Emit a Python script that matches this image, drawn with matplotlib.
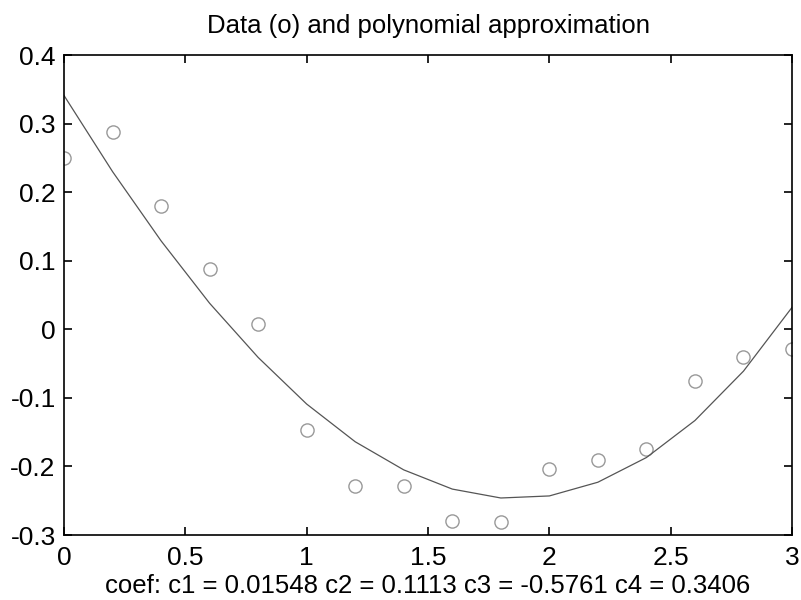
import matplotlib.pyplot as plt

plt.rcParams['font.family'] = ['Liberation Sans', 'DejaVu Sans']

# data points
x = [0, 0.2, 0.4, 0.6, 0.8, 1.0, 1.2, 1.4, 1.6, 1.8, 2.0, 2.2, 2.4, 2.6, 2.8, 3.0]
y_data = [0.25, 0.288, 0.18, 0.088, 0.008, -0.147, -0.228, -0.228, -0.279, -0.281,
          -0.203, -0.191, -0.174, -0.075, -0.04, -0.028]
# fitted curve values at the same x
y_fit = [0.341, 0.230, 0.129, 0.038, -0.041, -0.109, -0.164, -0.205, -0.233, -0.246,
         -0.243, -0.223, -0.187, -0.133, -0.061, 0.032]

fig = plt.figure(figsize=(8.01, 6.0), dpi=100)
ax = fig.add_axes([0.0799, 0.1083, 0.9089, 0.8])

ax.plot(x, y_data, 'o', markersize=9.5, markerfacecolor='none',
        markeredgecolor='#999999', markeredgewidth=1.0)
ax.plot(x, y_fit, '-', color='#555555', linewidth=0.9)

ax.set_xlim(0, 3)
ax.set_ylim(-0.3, 0.4)
ax.set_xticks([0, 0.5, 1, 1.5, 2, 2.5, 3])
ax.set_xticklabels(['0', '0.5', '1', '1.5', '2', '2.5', '3'])
ax.set_yticks([-0.3, -0.2, -0.1, 0, 0.1, 0.2, 0.3, 0.4])
ax.set_yticklabels(['-0.3', '-0.2', '-0.1', '0', '0.1', '0.2', '0.3', '0.4'])
ax.tick_params(direction='in', top=True, right=True, length=6, width=1.2,
               labelsize=19)
ax.tick_params(axis='x', pad=8)
ax.tick_params(axis='y', pad=6)
for s in ax.spines.values():
    s.set_linewidth(1.2)

ax.set_title('Data (o) and polynomial approximation', fontsize=18.5, pad=16)
ax.set_xlabel('coef: c1 = 0.01548 c2 = 0.1113 c3 = -0.5761 c4 = 0.3406',
              fontsize=18.5, labelpad=3)

fig.savefig('out.png', dpi=100)
